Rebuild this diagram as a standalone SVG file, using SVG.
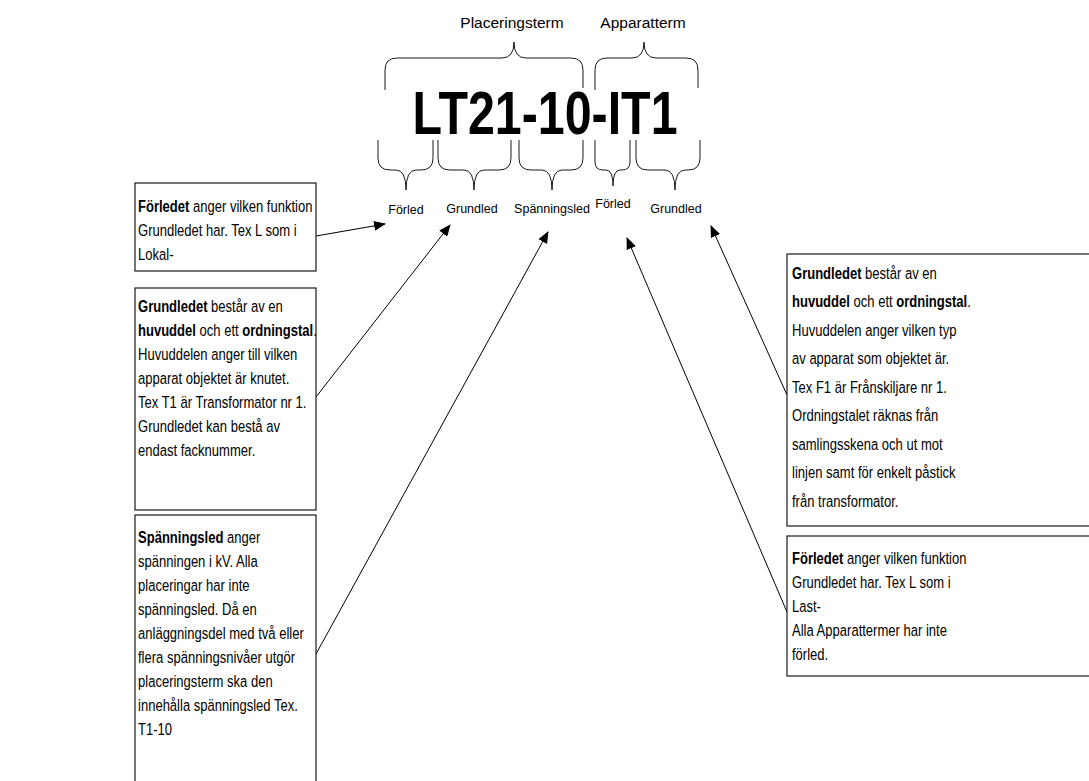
<svg xmlns="http://www.w3.org/2000/svg" width="1089" height="781" viewBox="0 0 1089 781">
<defs>
<style>
.box{fill:#fff;stroke:#1a1a1a;stroke-width:1.2}
.brace{fill:none;stroke:#1a1a1a;stroke-width:1}
.con{fill:none;stroke:#000;stroke-width:1}
.body{font-family:"Liberation Sans",Arial,sans-serif;font-size:16.5px;fill:#000}
.lbl{font-family:"Liberation Sans",Arial,sans-serif;font-size:12.5px;fill:#000}
.top{font-family:"Liberation Sans",Arial,sans-serif;font-size:15.5px;fill:#000}
.title{font-family:"Liberation Sans",Arial,sans-serif;font-size:62px;font-weight:bold;fill:#000}
.b{font-weight:bold}
</style>
<marker id="ah" markerWidth="12" markerHeight="10" refX="11" refY="5" orient="auto" markerUnits="userSpaceOnUse">
<path d="M0,0 L12,5 L0,10 Z" fill="#000"/>
</marker>
</defs>
<rect width="1089" height="781" fill="#fff"/>

<g id="title">
<text class="title" text-anchor="middle" transform="translate(545,134) scale(0.78,1)">LT21-10-IT1</text>
</g>

<g id="top-labels">
<text class="top" x="512" y="28" text-anchor="middle">Placeringsterm</text>
<text class="top" x="643" y="28" text-anchor="middle">Apparatterm</text>
</g>

<g id="braces">
<path class="brace" d="M385,90 L385,70 Q385,58 397,58 L502,58 Q514,58 514,42 Q514,58 526,58 L571,58 Q583,58 583,70 L583,88"/>
<path class="brace" d="M595,90 L595,70 Q595,58 607,58 L632,58 Q644,58 644,42 Q644,58 656,58 L686,58 Q698,58 698,70 L698,88"/>
<path class="brace" d="M378,140 L378,158 Q378,170 390,170 L396,170 Q406,170 406,190 Q406,170 416,170 L421,170 Q433,170 433,158 L433,140"/>
<path class="brace" d="M438,140 L438,158 Q438,170 450,170 L464,170 Q474,170 474,190 Q474,170 484,170 L499,170 Q511,170 511,158 L511,140"/>
<path class="brace" d="M519,140 L519,158 Q519,170 531,170 L542,170 Q552,170 552,190 Q552,170 562,170 L571,170 Q583,170 583,158 L583,140"/>
<path class="brace" d="M595,140 L595,162 Q595,170 603,170 L606,170 Q613,170 613,186 Q613,170 620,170 L622,170 Q630,170 630,162 L630,140"/>
<path class="brace" d="M636,140 L636,158 Q636,170 648,170 L665,170 Q675,170 675,190 Q675,170 685,170 L688,170 Q700,170 700,158 L700,140"/>
</g>

<g id="part-labels">
<text class="lbl" x="406" y="214" text-anchor="middle">Förled</text>
<text class="lbl" x="472" y="213" text-anchor="middle">Grundled</text>
<text class="lbl" x="552" y="213" text-anchor="middle">Spänningsled</text>
<text class="lbl" x="613" y="208" text-anchor="middle">Förled</text>
<text class="lbl" x="676" y="213" text-anchor="middle">Grundled</text>
</g>

<g id="connectors">
<line class="con" x1="316" y1="236" x2="385" y2="224" marker-end="url(#ah)"/>
<line class="con" x1="316" y1="397" x2="450" y2="225" marker-end="url(#ah)"/>
<line class="con" x1="316" y1="654" x2="548" y2="232" marker-end="url(#ah)"/>
<line class="con" x1="787" y1="612" x2="627" y2="238" marker-end="url(#ah)"/>
<line class="con" x1="787" y1="395" x2="711" y2="226" marker-end="url(#ah)"/>
</g>

<g id="box-forled-placering">
<rect class="box" x="135" y="183" width="181" height="88"/>
<text class="body" transform="translate(138,0) scale(0.79,1)">
<tspan x="0" y="212"><tspan class="b">Förledet</tspan> anger vilken funktion</tspan>
<tspan x="0" y="236">Grundledet har. Tex L som i</tspan>
<tspan x="0" y="260">Lokal-</tspan>
</text>
</g>

<g id="box-grundled-placering">
<rect class="box" x="135" y="288" width="181" height="222"/>
<text class="body" transform="translate(138,0) scale(0.79,1)">
<tspan x="0" y="312"><tspan class="b">Grundledet</tspan> består av en</tspan>
<tspan x="0" y="336"><tspan class="b">huvuddel</tspan> och ett <tspan class="b">ordningstal</tspan>.</tspan>
<tspan x="0" y="360">Huvuddelen anger till vilken</tspan>
<tspan x="0" y="384">apparat objektet är knutet.</tspan>
<tspan x="0" y="408">Tex T1 är Transformator nr 1.</tspan>
<tspan x="0" y="432">Grundledet kan bestå av</tspan>
<tspan x="0" y="456">endast facknummer.</tspan>
</text>
</g>

<g id="box-spanningsled">
<rect class="box" x="135" y="515" width="181" height="280"/>
<text class="body" transform="translate(138,0) scale(0.79,1)">
<tspan x="0" y="543"><tspan class="b">Spänningsled</tspan> anger</tspan>
<tspan x="0" y="567">spänningen i kV. Alla</tspan>
<tspan x="0" y="591">placeringar har inte</tspan>
<tspan x="0" y="615">spänningsled. Då en</tspan>
<tspan x="0" y="639">anläggningsdel med två eller</tspan>
<tspan x="0" y="663">flera spänningsnivåer utgör</tspan>
<tspan x="0" y="687">placeringsterm ska den</tspan>
<tspan x="0" y="711">innehålla spänningsled Tex.</tspan>
<tspan x="0" y="735">T1-10</tspan>
</text>
</g>

<g id="box-grundled-apparat">
<rect class="box" x="787" y="254" width="310" height="272"/>
<text class="body" transform="translate(792,0) scale(0.79,1)">
<tspan x="0" y="279"><tspan class="b">Grundledet</tspan> består av en</tspan>
<tspan x="0" y="307.5"><tspan class="b">huvuddel</tspan> och ett <tspan class="b">ordningstal</tspan>.</tspan>
<tspan x="0" y="336">Huvuddelen anger vilken typ</tspan>
<tspan x="0" y="364.5">av apparat som objektet är.</tspan>
<tspan x="0" y="393">Tex F1 är Frånskiljare nr 1.</tspan>
<tspan x="0" y="421.5">Ordningstalet räknas från</tspan>
<tspan x="0" y="450">samlingsskena och ut mot</tspan>
<tspan x="0" y="478.5">linjen samt för enkelt påstick</tspan>
<tspan x="0" y="507">från transformator.</tspan>
</text>
</g>

<g id="box-forled-apparat">
<rect class="box" x="787" y="536" width="310" height="140"/>
<text class="body" transform="translate(792,0) scale(0.79,1)">
<tspan x="0" y="564"><tspan class="b">Förledet</tspan> anger vilken funktion</tspan>
<tspan x="0" y="588">Grundledet har. Tex L som i</tspan>
<tspan x="0" y="612">Last-</tspan>
<tspan x="0" y="636">Alla Apparattermer har inte</tspan>
<tspan x="0" y="660">förled.</tspan>
</text>
</g>
</svg>
